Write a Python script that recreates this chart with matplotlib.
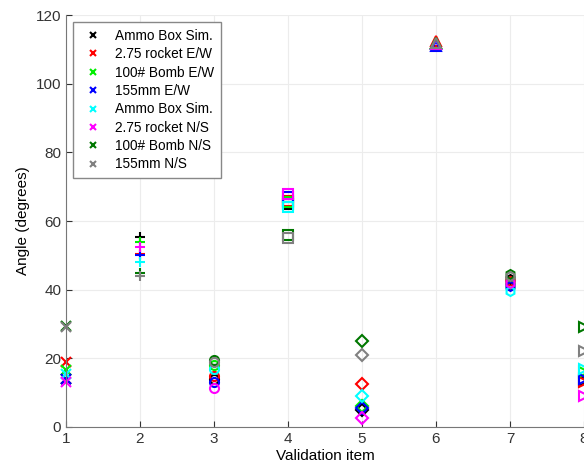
import matplotlib.pyplot as plt

plt.rcParams['font.family'] = ['Liberation Sans', 'DejaVu Sans']

items = [1, 2, 3, 4, 5, 6, 7, 8]
labels = ["Ammo Box Sim.", "2.75 rocket E/W", "100# Bomb E/W", "155mm E/W",
          "Ammo Box Sim.", "2.75 rocket N/S", "100# Bomb N/S", "155mm N/S"]
colors = ["black", "red", "#00ee00", "blue", "cyan", "magenta", "#007700", "gray"]

# angles par item de validation (1 a 8), une liste par serie
ammo_ew = [14, 55.5, 14, 65, 5, 111.5, 43, 13.5]
rocket_ew = [19, 50.5, 15, 66, 12.5, 112.5, 42.5, 13]
bomb_ew = [16.5, 54, 18, 65.5, 6, 112, 41.5, 16]
mm155_ew = [14, 50, 13, 67, 5.5, 111, 41, 14]
ammo_ns = [15.5, 48, 17, 64, 9, 111.5, 39.5, 17]
rocket_ns = [13, 52.5, 11.5, 68, 2.5, 111.5, 42, 9]
bomb_ns = [29.5, 45, 19.5, 56, 25, 112, 44.5, 29]
mm155_ns = [29, 44, 19, 55, 21, 112, 44, 22]

series = [ammo_ew, rocket_ew, bomb_ew, mm155_ew, ammo_ns, rocket_ns, bomb_ns, mm155_ns]
markers = ['x', '+', 'o', 's', 'D', '^', 'h', '>']  # un symbole par item

fig = plt.figure(figsize=(5.84, 4.76), dpi=100)
ax = fig.add_axes([0.113, 0.103, 0.887, 0.865])

for s, lab, c in zip(series, labels, colors):
    ax.plot([], [], 'x', color=c, label=lab, markersize=5, markeredgewidth=1.5)
    for i, m in enumerate(markers):
        ax.plot(items[i], s[i], m, color=c, markerfacecolor='none',
                markersize=6.5, markeredgewidth=1.5, clip_on=False)

ax.set_xlim(1, 8)
ax.set_ylim(0, 120)
ax.set_xticks(items)
ax.set_yticks(range(0, 121, 20))
ax.grid(True, color='#ececec', linewidth=0.8)
ax.tick_params(direction='in', labelsize=11, colors='#333333', length=4)
for side in ['top', 'right']:
    ax.spines[side].set_visible(False)
for side in ['left', 'bottom']:
    ax.spines[side].set_color('#777777')
ax.set_xlabel("Validation item", fontsize=11, labelpad=2)
ax.set_ylabel("Angle (degrees)", fontsize=11)
ax.legend(loc='upper left', fontsize=9.8, handletextpad=0.6, borderpad=0.5,
          labelspacing=0.32, fancybox=False, edgecolor='#888888', framealpha=1)

plt.savefig("out.png")
